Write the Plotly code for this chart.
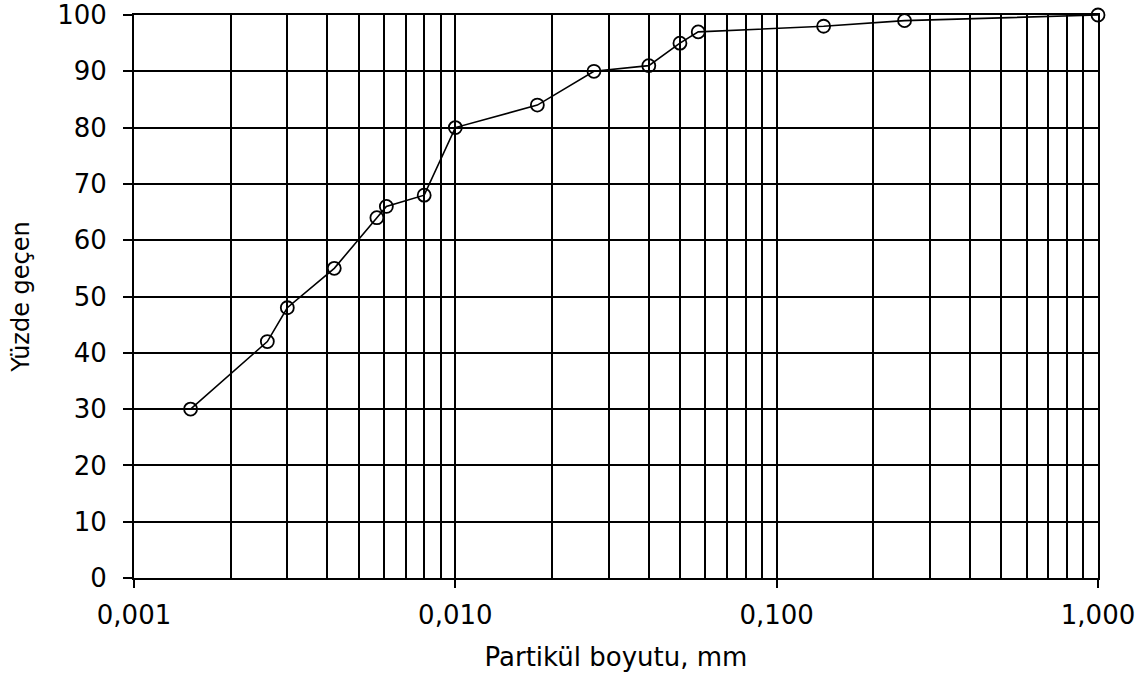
import plotly.graph_objects as go

# Grain-size distribution (hydrometer + sieve), percent passing vs. particle size
particle_size_mm = [0.0015, 0.0026, 0.0030, 0.0042, 0.0057, 0.0061, 0.0080, 0.010,
                    0.018, 0.027, 0.040, 0.050, 0.057, 0.140, 0.250, 1.000]
percent_passing = [30, 42, 48, 55, 64, 66, 68, 80, 84, 90, 91, 95, 97, 98, 99, 100]

x_tick_values = [0.001, 0.01, 0.1, 1.0]
x_tick_labels = ["0,001", "0,010", "0,100", "1,000"]
y_tick_values = [0, 10, 20, 30, 40, 50, 60, 70, 80, 90, 100]
y_tick_labels = [str(v) for v in y_tick_values]

FONT = "DejaVu Sans"

fig = go.Figure()
fig.add_trace(go.Scatter(
    x=particle_size_mm,
    y=percent_passing,
    mode="lines+markers",
    line=dict(color="black", width=1.6),
    marker=dict(symbol="circle-open", size=13, color="black",
                line=dict(color="black", width=1.8)),
    showlegend=False,
    cliponaxis=False,
))

fig.update_layout(
    width=1148, height=677,
    margin=dict(l=134, r=50, t=15, b=99, autoexpand=False),
    paper_bgcolor="white",
    plot_bgcolor="white",
    font=dict(family=FONT, color="black", size=26),
)

fig.update_xaxes(
    type="log",
    range=[-3, 0],
    automargin=False,
    tickvals=x_tick_values,
    ticktext=x_tick_labels,
    ticks="outside", ticklen=8, tickwidth=2, tickcolor="black",
    ticklabelstandoff=5,
    tickfont=dict(family=FONT, size=26, color="black"),
    showgrid=True, gridcolor="black", gridwidth=2,
    minor=dict(dtick="D1", showgrid=True, gridcolor="black", gridwidth=2, ticks=""),
    showline=True, linecolor="black", linewidth=2, mirror=True,
    zeroline=False,
    title=dict(text="Partikül boyutu, mm", font=dict(family=FONT, size=26, color="black"),
               standoff=19),
)

fig.update_yaxes(
    range=[0, 100],
    automargin=False,
    tickvals=y_tick_values,
    ticktext=y_tick_labels,
    ticks="outside", ticklen=9, tickwidth=2, tickcolor="black",
    ticklabelstandoff=11,
    tickfont=dict(family=FONT, size=26, color="black"),
    showgrid=True, gridcolor="black", gridwidth=2,
    showline=True, linecolor="black", linewidth=2, mirror=True,
    zeroline=False,
    title=dict(text="Yüzde geçen", font=dict(family=FONT, size=24, color="black"),
               standoff=21),
)

fig.write_html("out.html")
